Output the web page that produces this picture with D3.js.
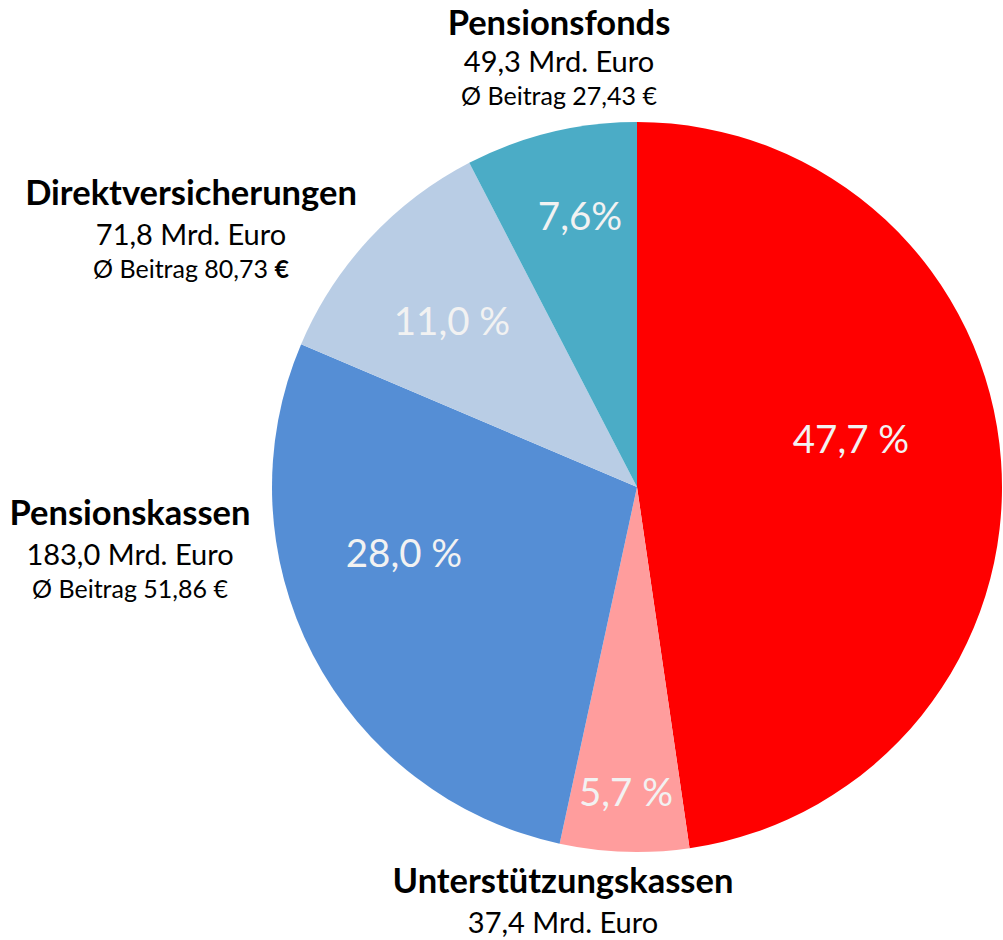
<!DOCTYPE html>
<html><head><meta charset="utf-8">
<script src="https://cdn.jsdelivr.net/npm/d3@7"></script>
<style>body{margin:0;background:#fff}svg{display:block}</style>
</head><body>
<svg id="c" width="1003" height="940"></svg>
<script>
// Data
const categories = ["Direktzusagen","Unterstützungskassen","Pensionskassen","Direktversicherungen","Pensionsfonds"];
const shares = [47.7, 5.7, 28.0, 11.0, 7.6];
const shareLabels = ["47,7 %","5,7 %","28,0 %","11,0 %","7,6%"];
const amounts = [null,"37,4 Mrd. Euro","183,0 Mrd. Euro","71,8 Mrd. Euro","49,3 Mrd. Euro"];
const beitrag = [null,null,"51,86","80,73","27,43"];
const colors = ["#ff0000","#ff9d9d","#558ed5","#b9cde5","#4bacc6"];

// Layout
const cx = 637, cy = 487, R = 365;
const pctPos = [[851,453],[626,806],[404,567],[452,335],[580,230]];
const labelPos = [null,[563,893],[130,525],[191,205],[559,35]];
const firstGap = [null,40,40,40,37];

const svg = d3.select("#c");
const g = svg.append("g").attr("transform",`translate(${cx},${cy})`);
const pie = d3.pie().sort(null).value(d=>d);
const arc = d3.arc().innerRadius(0).outerRadius(R);
const arcs = pie(shares);
g.selectAll("path").data(arcs).join("path")
  .attr("d",arc).attr("fill",(d,i)=>colors[i]);

svg.selectAll("text.pct").data(shareLabels).join("text")
  .attr("class","pct")
  .attr("x",(d,i)=>pctPos[i][0]).attr("y",(d,i)=>pctPos[i][1])
  .attr("text-anchor","middle")
  .attr("font-family","Lato, 'Noto Sans', sans-serif")
  .attr("font-size",38.5)
  .attr("fill","#f2f2f2")
  .text(d=>d);

const ff = "Lato, 'Open Sans', sans-serif";
categories.forEach((c,i)=>{
  if(!labelPos[i]) return;
  const [x,y] = labelPos[i];
  const t = svg.append("text").attr("x",x).attr("y",y).attr("text-anchor","middle")
    .attr("font-family",ff).attr("fill","#000");
  t.append("tspan").attr("x",x).attr("font-weight","bold").attr("font-size",34.5).text(c);
  t.append("tspan").attr("x",x).attr("dy",firstGap[i]).attr("font-size",29).text(amounts[i]);
  if(beitrag[i]){
    const b = t.append("tspan").attr("x",x).attr("dy",33).attr("font-size",25);
    b.append("tspan").text("Ø Beitrag " + beitrag[i] + " ");
    b.append("tspan").attr("font-weight", categories[i]==="Direktversicherungen"?"bold":"normal").text("€");
  }
});
</script>
</body></html>
